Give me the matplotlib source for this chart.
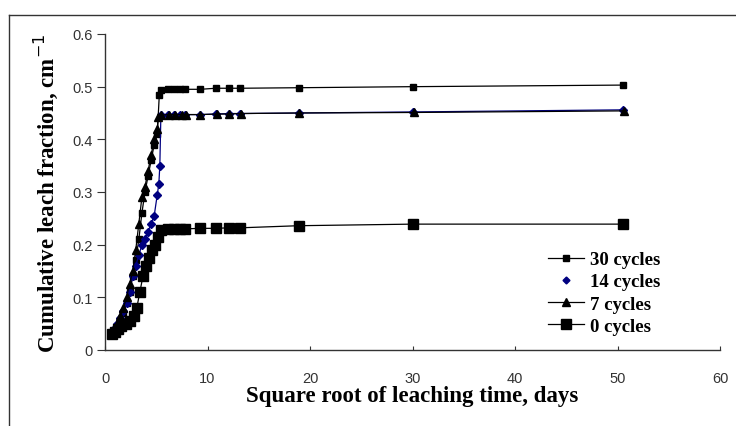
import numpy as np
import matplotlib
matplotlib.use("Agg")
import matplotlib.pyplot as plt
from matplotlib.lines import Line2D

# sqrt of leaching time (x) and cumulative leach fraction (y) per series
x_30 = [0.9, 1.2, 1.5, 1.8, 2.1, 2.4, 2.7, 3.0, 3.3, 3.6, 3.9, 4.2, 4.5, 4.8, 5.1, 5.3,
        5.5, 6.1, 6.7, 7.3, 7.8, 9.3, 10.8, 12.1, 13.2, 18.9, 30.0, 50.5]
y_30 = [0.035, 0.045, 0.055, 0.07, 0.09, 0.11, 0.14, 0.17, 0.21, 0.26, 0.30, 0.33, 0.36, 0.39, 0.41, 0.485,
        0.494, 0.495, 0.495, 0.495, 0.495, 0.495, 0.497, 0.497, 0.497, 0.498, 0.500, 0.503]

x_14 = [0.9, 1.2, 1.5, 1.8, 2.1, 2.4, 2.7, 3.0, 3.3, 3.6, 3.9, 4.2, 4.5, 4.8, 5.1, 5.25, 5.35, 5.45,
        5.5, 6.1, 6.7, 7.3, 7.8, 9.3, 10.8, 12.1, 13.2, 18.9, 30.0, 50.5]
y_14 = [0.04, 0.05, 0.06, 0.075, 0.09, 0.11, 0.14, 0.16, 0.18, 0.20, 0.21, 0.225, 0.24, 0.255, 0.295, 0.315, 0.35, 0.445,
        0.447, 0.447, 0.447, 0.447, 0.447, 0.447, 0.448, 0.449, 0.449, 0.450, 0.452, 0.456]

x_7 = [0.9, 1.2, 1.5, 1.8, 2.1, 2.4, 2.7, 3.0, 3.3, 3.6, 3.9, 4.2, 4.5, 4.8, 5.1, 5.2,
       5.5, 6.2, 6.8, 7.5, 7.9, 9.3, 10.9, 12.1, 13.3, 18.9, 30.1, 50.6]
y_7 = [0.04, 0.05, 0.065, 0.08, 0.10, 0.125, 0.15, 0.19, 0.24, 0.29, 0.31, 0.34, 0.37, 0.40, 0.42, 0.443,
       0.446, 0.447, 0.447, 0.447, 0.447, 0.447, 0.448, 0.448, 0.449, 0.450, 0.451, 0.454]

x_0 = [0.7, 1.0, 1.3, 1.6, 2.0, 2.4, 2.8, 3.1, 3.4, 3.7, 4.0, 4.3, 4.6, 4.9, 5.2,
       5.5, 6.1, 6.7, 7.3, 7.8, 9.3, 10.8, 12.1, 13.2, 18.9, 30.0, 50.5]
y_0 = [0.03, 0.035, 0.04, 0.045, 0.05, 0.055, 0.065, 0.08, 0.11, 0.14, 0.16, 0.175, 0.19, 0.20, 0.215,
       0.228, 0.229, 0.23, 0.23, 0.23, 0.231, 0.231, 0.232, 0.232, 0.236, 0.239, 0.239]

labels = ['30 cycles', '14 cycles', '7 cycles', '0 cycles']

fig = plt.figure(figsize=(7.36, 4.27), dpi=100)
ax = fig.add_axes([105/736, 1 - 351/427, 615/736, 316/427])

l30, = ax.plot(x_30, y_30, color='black', lw=0.9, marker='s', ms=4.3)
l14, = ax.plot(x_14, y_14, color='#000080', lw=0.9, marker='D', ms=4.3)
l7, = ax.plot(x_7, y_7, color='black', lw=0.9, marker='^', ms=5.2)
l0, = ax.plot(x_0, y_0, color='black', lw=0.9, marker='s', ms=7.5)

ax.set_xlim(0, 60)
ax.set_ylim(0, 0.6)
ax.set_xticks(np.arange(0, 61, 10))
ax.set_yticks(np.arange(0, 0.61, 0.1))
ax.set_yticklabels(['0', '0.1', '0.2', '0.3', '0.4', '0.5', '0.6'])

for s in ['top', 'right']:
    ax.spines[s].set_visible(False)
for s in ['left', 'bottom']:
    ax.spines[s].set_color('#333333')
    ax.spines[s].set_linewidth(1.0)

ax.tick_params(axis='x', direction='in', length=3, pad=15, colors='#333333')
ax.tick_params(axis='y', direction='out', length=6, pad=3, colors='#333333')
for t in ax.get_xticklabels() + ax.get_yticklabels():
    t.set_fontfamily('Liberation Sans')
    t.set_fontsize(10.5)

label_font = {'family': 'Liberation Serif', 'weight': 'bold', 'size': 16.5}
ax.set_xlabel('Square root of leaching time, days', fontdict=label_font, labelpad=0)
ax.set_ylabel('Cumulative leach fraction, cm$^{-1}$', fontdict=label_font, labelpad=9)

h14 = Line2D([], [], color='#000080', lw=0, marker='D', ms=3.5)
ax.legend([l30, h14, l7, l0], labels, loc='center left',
          bbox_to_anchor=(548/736, 1 - 294/427), bbox_transform=fig.transFigure,
          frameon=False, borderpad=0, borderaxespad=0,
          handlelength=1.9, handletextpad=0.35, labelspacing=0.27,
          prop={'family': 'Liberation Serif', 'weight': 'bold', 'size': 13.5})

# outer chart border (top and left edges visible)
fig.add_artist(Line2D([9/736, 9/736], [0, 1 - 16/427], color='#333333', lw=1.0))
fig.add_artist(Line2D([9/736, 1], [1 - 16/427, 1 - 16/427], color='#333333', lw=1.0))

fig.savefig('out.png', dpi=100)
